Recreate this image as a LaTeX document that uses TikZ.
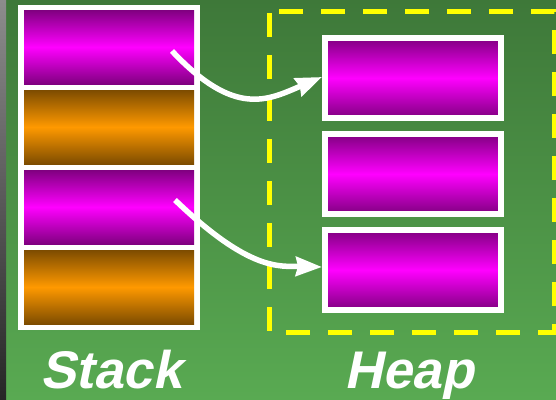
\documentclass[tikz,border=0pt]{standalone}
\usepackage{fontspec}
\setmainfont{Liberation Sans}
\newfontfamily\titlefont{Liberation Sans}[UprightFont=* Bold, FakeSlant=0.21]
\usetikzlibrary{arrows.meta}

\definecolor{bgtop}{RGB}{62,120,57}
\definecolor{bgbot}{RGB}{89,170,82}
\definecolor{plum}{RGB}{128,0,128}
\definecolor{brown}{RGB}{125,76,0}
\definecolor{amber}{RGB}{255,153,0}
\definecolor{hyellow}{RGB}{255,255,0}

\begin{document}
\begin{tikzpicture}[x=1pt, y=-1pt,
  mag/.style={top color=plum, bottom color=plum, middle color=magenta},
  org/.style={top color=brown, bottom color=brown, middle color=amber},
  slot/.style={rectangle, inner sep=0pt, minimum width=170pt, minimum height=74pt},
  heapbox/.style={rectangle, mag, draw=white, line width=6pt, minimum width=176pt, minimum height=80pt},
  ptr/.style={draw=white, line width=5.5pt, -{Stealth[length={26pt 0 0}, width={19pt 0 0}, inset=2pt]}},
  title/.style={anchor=base, text=white, font=\titlefont\fontsize{53}{60}\selectfont}]
\useasboundingbox (0,0) rectangle (556,399);
\shade[top color=bgtop, bottom color=bgbot] (0,0) rectangle (556,399);
\shade[top color=gray!90, bottom color=black!85] (0,0) rectangle (6,399);

% stack frame and slots
\fill[white] (18,5) rectangle (200,330);
\node [slot, mag] (s1) at (109,47) {};
\node [slot, org] (s2) at (109,127) {};
\node [slot, mag] (s3) at (109,207) {};
\node [slot, org] (s4) at (109,287) {};

% heap
\draw[hyellow, line width=5pt, dash pattern=on 24pt off 18pt, dash phase=-2pt]
  (269,11) -- (269,332) -- (554,332) -- (554,11) -- cycle;
\node [heapbox] (h1) at (413,78) {};
\node [heapbox] (h2) at (413,174) {};
\node [heapbox] (h3) at (413,270) {};

\coordinate (p1) at (172,51);
\coordinate (p2) at (175,200);
\draw[ptr] (p1) .. controls (235,118) and (268,100) .. ([yshift=1pt]h1.west);
\draw[ptr] (p2) .. controls (250,272) and (280,266) .. ([yshift=3pt]h3.west);

\node [title] (stack) at (111,388) {Stack};
\node [title] (heap) at (409,388) {Heap};
\end{tikzpicture}
\end{document}
